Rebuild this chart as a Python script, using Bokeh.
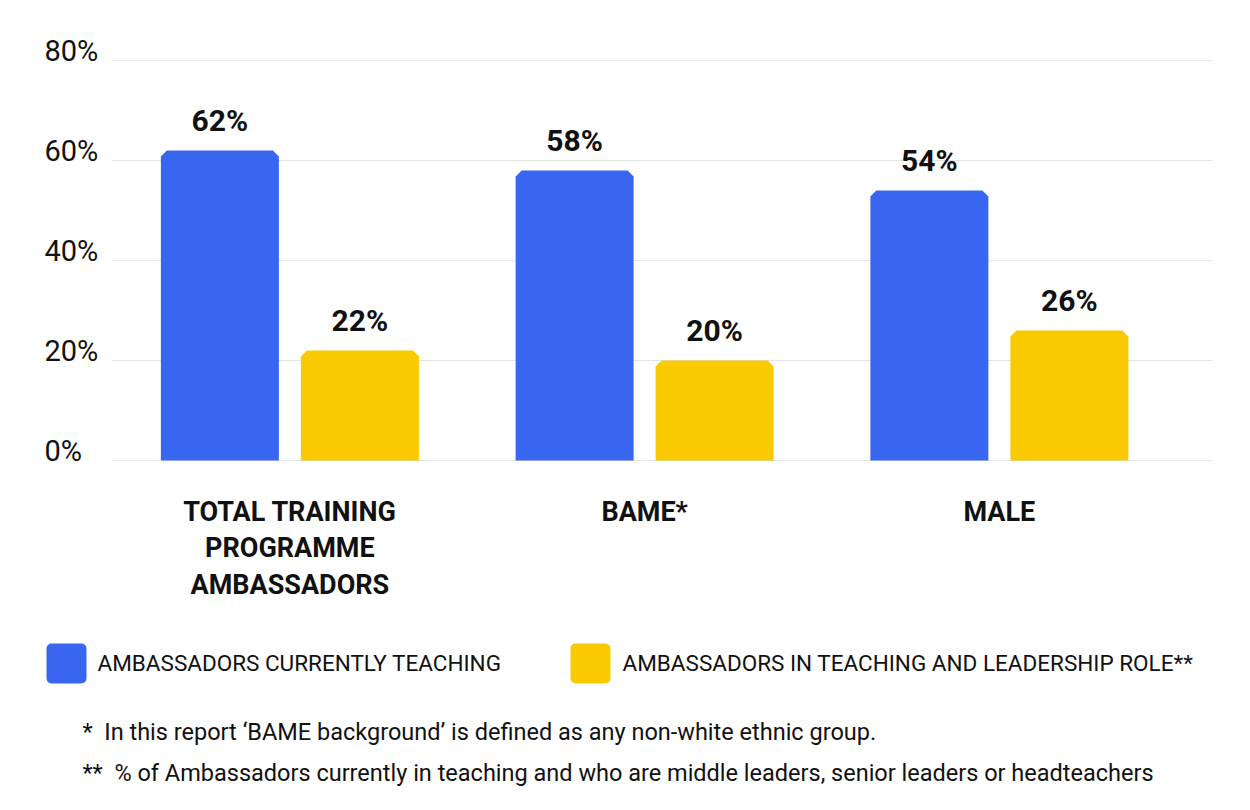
from bokeh.plotting import figure
from bokeh.models import Range1d
from bokeh.core.properties import value
from bokeh.embed import file_html
from bokeh.resources import INLINE

# ---------------- data ----------------
categories = ["TOTAL TRAINING\nPROGRAMME\nAMBASSADORS", "BAME*", "MALE"]
series_names = ["AMBASSADORS CURRENTLY TEACHING", "AMBASSADORS IN TEACHING AND LEADERSHIP ROLE**"]
currently_teaching = [62, 58, 54]
teaching_and_leadership = [22, 20, 26]
y_ticks = [0, 20, 40, 60, 80]
y_tick_labels = ["0%", "20%", "40%", "60%", "80%"]
footnotes = [
    "*\u00a0\u00a0In this report \u2018BAME background\u2019 is defined as any non-white ethnic group.",
    "**\u00a0\u00a0% of Ambassadors currently in teaching and who are middle leaders, senior leaders or headteachers",
]

# ---------------- style ----------------
BLUE = "#3866F0"
YELLOW = "#FACA00"
GRID = "#E3E3E3"
INK = "#111111"
FONT = value("Roboto")

PX = 354.75          # pixels per category group
PY = 5.0             # pixels per percentage point
W, H = 1234, 794


def X(img):
    return (img - 112) / PX


def Y(img):
    return (460 - img) / PY


p = figure(width=W, height=H,
           x_range=Range1d(X(0), X(W)), y_range=Range1d(Y(H), Y(0)),
           output_backend="svg", toolbar_location=None,
           min_border=0, x_axis_location=None, y_axis_location=None,
           outline_line_color=None)
p.grid.visible = False
p.background_fill_color = "white"
p.border_fill_color = "white"

# gridlines
x_end = 1100 / PX
p.segment(x0=[0] * len(y_ticks), x1=[x_end] * len(y_ticks), y0=y_ticks, y1=y_ticks,
          line_color=GRID, line_width=1)

# y tick labels
p.text(x=[X(44)] * len(y_ticks), y=y_ticks, text=y_tick_labels, text_font=FONT,
       text_font_size="29px", text_color=INK, text_align="left",
       text_baseline="middle", y_offset=-9.5)

# bars with chamfered top corners
bar_w = 118 / PX
offset = 70 / PX
cx = 6 / PX
cy = 6 / PY


def bar_shapes(vals, sign):
    xs, ys, lx, ly, lt = [], [], [], [], []
    for i, v in enumerate(vals):
        c = i + 0.5 + sign * offset
        l, r = c - bar_w / 2, c + bar_w / 2
        xs.append([l, l, l + cx, r - cx, r, r])
        ys.append([0, v - cy, v, v, v - cy, 0])
        lx.append(c)
        ly.append(v)
        lt.append(f"{v}%")
    return xs, ys, lx, ly, lt


for vals, sign, col in [(currently_teaching, -1, BLUE), (teaching_and_leadership, 1, YELLOW)]:
    xs, ys, lx, ly, lt = bar_shapes(vals, sign)
    p.patches(xs=xs, ys=ys, fill_color=col, line_color=None)
    p.text(x=lx, y=ly, text=lt, text_font=FONT, text_font_size="30px",
           text_font_style="bold", text_color=INK, text_align="center",
           text_baseline="middle", y_offset=-30)

# category labels
cat_x, cat_y, cat_t = [], [], []
for i, cat in enumerate(categories):
    for k, line in enumerate(cat.split("\n")):
        cat_x.append(i + 0.5)
        cat_y.append(Y(511 + 36.5 * k))
        cat_t.append(line)
p.text(x=cat_x, y=cat_y, text=cat_t, text_font=FONT, text_font_size="27px",
       text_font_style="bold", text_color=INK, text_align="center",
       text_baseline="middle")

# legend
leg_sq_left = [46, 570]
leg_txt_x = [97, 622]
p.quad(left=[X(v) for v in leg_sq_left], right=[X(v + 40) for v in leg_sq_left],
       top=[Y(643)] * 2, bottom=[Y(683)] * 2, fill_color=[BLUE, YELLOW],
       line_color=None, border_radius=5)
p.text(x=[X(v) for v in leg_txt_x], y=[Y(662)] * 2, text=series_names, text_font=FONT,
       text_font_size="22.5px", text_color=INK, text_align="left",
       text_baseline="middle")

# footnotes
p.text(x=[X(82)] * 2, y=[Y(731), Y(772)], text=footnotes, text_font=FONT,
       text_font_size="23.5px", text_color=INK, text_align="left",
       text_baseline="middle")

open("out.html", "w").write(file_html(p, INLINE))
